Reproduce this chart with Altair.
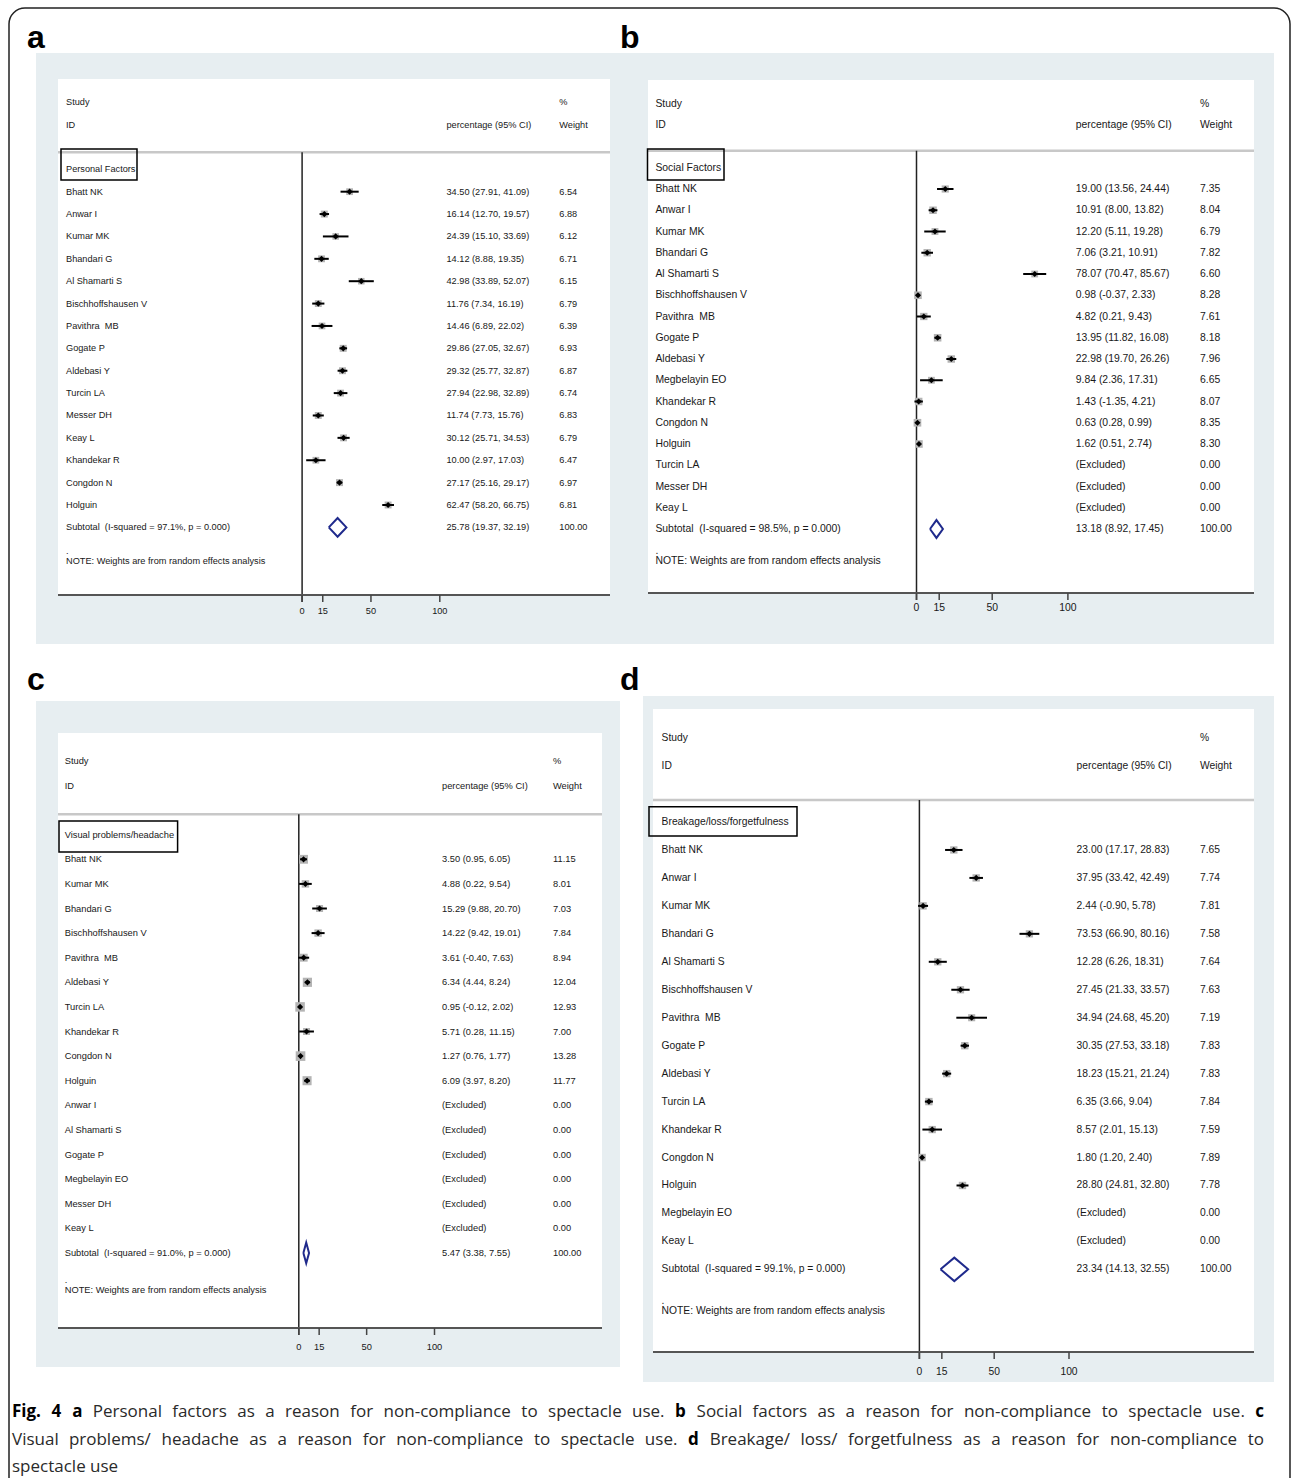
import altair as alt
import pandas as pd

# ---------------------------------------------------------------- data
TICKS = [0, 15, 50, 100]

# (a) Personal factors
a_study = ["Bhatt NK", "Anwar I", "Kumar MK", "Bhandari G", "Al Shamarti S",
           "Bischhoffshausen V", "Pavithra\u00a0 MB", "Gogate P", "Aldebasi Y",
           "Turcin LA", "Messer DH", "Keay L", "Khandekar R", "Congdon N", "Holguin"]
a_est = [34.50, 16.14, 24.39, 14.12, 42.98, 11.76, 14.46, 29.86, 29.32, 27.94,
         11.74, 30.12, 10.00, 27.17, 62.47]
a_lo = [27.91, 12.70, 15.10, 8.88, 33.89, 7.34, 6.89, 27.05, 25.77, 22.98,
        7.73, 25.71, 2.97, 25.16, 58.20]
a_hi = [41.09, 19.57, 33.69, 19.35, 52.07, 16.19, 22.02, 32.67, 32.87, 32.89,
        15.76, 34.53, 17.03, 29.17, 66.75]
a_weight = [6.54, 6.88, 6.12, 6.71, 6.15, 6.79, 6.39, 6.93, 6.87, 6.74,
            6.83, 6.79, 6.47, 6.97, 6.81]
a_excluded = []
a_pooled = [25.78, 19.37, 32.19]
a_isq = "97.1%"

# (b) Social factors
b_study = ["Bhatt NK", "Anwar I", "Kumar MK", "Bhandari G", "Al Shamarti S",
           "Bischhoffshausen V", "Pavithra\u00a0 MB", "Gogate P", "Aldebasi Y",
           "Megbelayin EO", "Khandekar R", "Congdon N", "Holguin"]
b_est = [19.00, 10.91, 12.20, 7.06, 78.07, 0.98, 4.82, 13.95, 22.98, 9.84,
         1.43, 0.63, 1.62]
b_lo = [13.56, 8.00, 5.11, 3.21, 70.47, -0.37, 0.21, 11.82, 19.70, 2.36,
        -1.35, 0.28, 0.51]
b_hi = [24.44, 13.82, 19.28, 10.91, 85.67, 2.33, 9.43, 16.08, 26.26, 17.31,
        4.21, 0.99, 2.74]
b_weight = [7.35, 8.04, 6.79, 7.82, 6.60, 8.28, 7.61, 8.18, 7.96, 6.65,
            8.07, 8.35, 8.30]
b_excluded = ["Turcin LA", "Messer DH", "Keay L"]
b_pooled = [13.18, 8.92, 17.45]
b_isq = "98.5%"

# (c) Visual problems / headache
c_study = ["Bhatt NK", "Kumar MK", "Bhandari G", "Bischhoffshausen V",
           "Pavithra\u00a0 MB", "Aldebasi Y", "Turcin LA", "Khandekar R",
           "Congdon N", "Holguin"]
c_est = [3.50, 4.88, 15.29, 14.22, 3.61, 6.34, 0.95, 5.71, 1.27, 6.09]
c_lo = [0.95, 0.22, 9.88, 9.42, -0.40, 4.44, -0.12, 0.28, 0.76, 3.97]
c_hi = [6.05, 9.54, 20.70, 19.01, 7.63, 8.24, 2.02, 11.15, 1.77, 8.20]
c_weight = [11.15, 8.01, 7.03, 7.84, 8.94, 12.04, 12.93, 7.00, 13.28, 11.77]
c_excluded = ["Anwar I", "Al Shamarti S", "Gogate P", "Megbelayin EO",
              "Messer DH", "Keay L"]
c_pooled = [5.47, 3.38, 7.55]
c_isq = "91.0%"

# (d) Breakage / loss / forgetfulness
d_study = ["Bhatt NK", "Anwar I", "Kumar MK", "Bhandari G", "Al Shamarti S",
           "Bischhoffshausen V", "Pavithra\u00a0 MB", "Gogate P", "Aldebasi Y",
           "Turcin LA", "Khandekar R", "Congdon N", "Holguin"]
d_est = [23.00, 37.95, 2.44, 73.53, 12.28, 27.45, 34.94, 30.35, 18.23, 6.35,
         8.57, 1.80, 28.80]
d_lo = [17.17, 33.42, -0.90, 66.90, 6.26, 21.33, 24.68, 27.53, 15.21, 3.66,
        2.01, 1.20, 24.81]
d_hi = [28.83, 42.49, 5.78, 80.16, 18.31, 33.57, 45.20, 33.18, 21.24, 9.04,
        15.13, 2.40, 32.80]
d_weight = [7.65, 7.74, 7.81, 7.58, 7.64, 7.63, 7.19, 7.83, 7.83, 7.84,
            7.59, 7.89, 7.78]
d_excluded = ["Megbelayin EO", "Keay L"]
d_pooled = [23.34, 14.13, 32.55]
d_isq = "99.1%"

# caption text, split into (text, bold) runs
CAPTION_LINES = [
    [("Fig. 4 a", True),
     ("Personal factors as a reason for non-compliance to spectacle use.", False),
     ("b", True),
     ("Social factors as a reason for non-compliance to spectacle use.", False),
     ("c", True)],
    [("Visual problems/ headache as a reason for non-compliance to spectacle use.", False),
     ("d", True),
     ("Breakage/ loss/ forgetfulness as a reason for non-compliance to", False)],
    [("spectacle use", False)],
]

# ---------------------------------------------------------------- styling
FONT = "Liberation Sans, Arial, sans-serif"
CAP_FONT = "Open Sans, Noto Sans, sans-serif"
TAG_FONT = "Liberation Sans, Arial, sans-serif"
BG = "#e7eef1"
INK = "#181818"
NAVY = "#1f2a8c"
ONE = pd.DataFrame({"k": [0]})

PANELS = [
    dict(tag="a", label="Personal Factors", study=a_study, est=a_est, lo=a_lo,
         hi=a_hi, weight=a_weight, excluded=a_excluded, pooled=a_pooled, isq=a_isq,
         tag_xy=(27, 48), bg=(36, 623, 53, 644), plot=(58, 610, 79, 595),
         xpx=(302.1, 439.8), ypx=(169.3, 22.38), header_y=152.3, tick_y=611,
         cols=(66, 446.5, 559.3), box=(61, 137, 149, 180), size=9.2),
    dict(tag="b", label="Social Factors", study=b_study, est=b_est, lo=b_lo,
         hi=b_hi, weight=b_weight, excluded=b_excluded, pooled=b_pooled, isq=b_isq,
         tag_xy=(620, 48), bg=(623, 1274, 53, 644), plot=(648, 1254, 80, 593),
         xpx=(916.5, 1067.9), ypx=(167.75, 21.25), header_y=150.7, tick_y=608,
         cols=(655.4, 1075.8, 1200), box=(647.5, 724, 149, 180), size=10.4),
    dict(tag="c", label="Visual problems/headache", study=c_study, est=c_est,
         lo=c_lo, hi=c_hi, weight=c_weight, excluded=c_excluded, pooled=c_pooled,
         isq=c_isq, tag_xy=(27, 690), bg=(36, 620, 701, 1367),
         plot=(58, 602, 733, 1328), xpx=(298.8, 434.5), ypx=(834.7, 24.6),
         header_y=814.3, tick_y=1347, cols=(64.7, 442, 553),
         box=(59, 177.6, 821, 852), size=9.3),
    dict(tag="d", label="Breakage/loss/forgetfulness", study=d_study, est=d_est,
         lo=d_lo, hi=d_hi, weight=d_weight, excluded=d_excluded, pooled=d_pooled,
         isq=d_isq, tag_xy=(620, 690), bg=(643, 1274, 696, 1382),
         plot=(653, 1254, 709, 1352), xpx=(919.4, 1069.0), ypx=(822.0, 27.96),
         header_y=800, tick_y=1372, cols=(661.6, 1076.6, 1200),
         box=(649, 797, 806.7, 836), size=10.3),
]


def frame_rect(x, x2, y, y2, **kw):
    return alt.Chart(ONE).mark_rect(**kw).encode(
        x=alt.value(x), x2=alt.value(x2), y=alt.value(y), y2=alt.value(y2))


def frame_rule(x, x2, y, y2, **kw):
    return alt.Chart(ONE).mark_rule(**kw).encode(
        x=alt.value(x), x2=alt.value(x2), y=alt.value(y), y2=alt.value(y2))


def frame_text(x, y, s, **kw):
    return alt.Chart(ONE).mark_text(align="left", baseline="middle", **kw).encode(
        x=alt.value(x), y=alt.value(y), text=alt.value(s))


def ci_text(e, l, h):
    return f"{e:.2f} ({l:.2f}, {h:.2f})"


def forest(p):
    xs = alt.Scale(domain=[0, 100], range=list(p["xpx"]), zero=False, nice=False)
    y0, dy = p["ypx"]
    ys = alt.Scale(domain=[0, 10], range=[y0, y0 + 10 * dy], zero=False, nice=False)
    X = lambda f: alt.X(f, scale=xs, axis=None)
    Y = lambda f: alt.Y(f, scale=ys, axis=None)

    n_inc = len(p["study"])
    n_exc = len(p["excluded"])
    sub_row = n_inc + n_exc + 1
    note_row = sub_row + 1.5

    inc = pd.DataFrame({
        "row": list(range(1, n_inc + 1)), "study": p["study"], "est": p["est"],
        "lo": p["lo"], "hi": p["hi"], "weight": p["weight"]})

    rows = [(-3, "Study", "", "%"), (-2, "ID", "percentage (95% CI)", "Weight"),
            (0, p["label"], "", "")]
    for r, s, e, l, h, w in zip(inc["row"], p["study"], p["est"], p["lo"],
                                p["hi"], p["weight"]):
        rows.append((r, s, ci_text(e, l, h), f"{w:.2f}"))
    for i, s in enumerate(p["excluded"]):
        rows.append((n_inc + 1 + i, s, "(Excluded)", "0.00"))
    pe, pl, ph = p["pooled"]
    rows.append((sub_row, f"Subtotal\u00a0 (I-squared = {p['isq']}, p = 0.000)",
                 ci_text(pe, pl, ph), "100.00"))
    rows.append((note_row, "NOTE: Weights are from random effects analysis", "", ""))
    txt = pd.DataFrame(rows, columns=["row", "c0", "c1", "c2"])

    diamond = pd.DataFrame({
        "x": [pl, pe, ph, pe, pl],
        "row": [sub_row, sub_row - 0.42, sub_row, sub_row + 0.42, sub_row],
        "ord": [0, 1, 2, 3, 4]})
    ticks = pd.DataFrame({"t": TICKS, "lab": [str(t) for t in TICKS]})
    zero = pd.DataFrame({"t": [0]})

    bx0, bx1, by0, by1 = p["bg"]
    px0, px1, py0, py1 = p["plot"]
    fs = p["size"]
    axis_y = py1
    c0, c1, c2 = p["cols"]
    kx0, kx1, ky0, ky1 = p["box"]

    layers = [
        frame_rect(bx0, bx1, by0, by1, color=BG),
        frame_rect(px0, px1, py0, py1, color="white"),
        frame_rule(px0, px1, p["header_y"], p["header_y"], color="#c8c8c8",
                   strokeWidth=2.5),
        alt.Chart(zero).mark_rule(color="#222", strokeWidth=1.5).encode(
            x=X("t:Q"), y=alt.value(p["header_y"]), y2=alt.value(axis_y + 7)),
        frame_rule(px0, px1, axis_y, axis_y, color="#555", strokeWidth=2),
        alt.Chart(ticks).mark_rule(color="#444", strokeWidth=1.5).encode(
            x=X("t:Q"), y=alt.value(axis_y), y2=alt.value(axis_y + 7)),
        alt.Chart(ticks).mark_text(font=FONT, fontSize=fs, color=INK,
                                   baseline="middle").encode(
            x=X("t:Q"), y=alt.value(p["tick_y"]), text="lab:N"),
        alt.Chart(inc).transform_calculate(sz="datum.weight * 7").mark_square(
            color="#b4b4b4", opacity=1).encode(
            x=X("est:Q"), y=Y("row:Q"),
            size=alt.Size("sz:Q", scale=None, legend=None)),
        alt.Chart(inc).mark_rule(color="black", strokeWidth=2).encode(
            x=X("lo:Q"), x2="hi:Q", y=Y("row:Q")),
        alt.Chart(inc).mark_point(shape="diamond", filled=True, color="black",
                                  size=38, opacity=1).encode(
            x=X("est:Q"), y=Y("row:Q")),
        alt.Chart(diamond).mark_line(color=NAVY, strokeWidth=2).encode(
            x=X("x:Q"), y=Y("row:Q"), order="ord:O"),
    ]
    for col, xpos in (("c0", c0), ("c1", c1), ("c2", c2)):
        layers.append(
            alt.Chart(txt).mark_text(align="left", baseline="middle", font=FONT,
                                     fontSize=fs, color=INK).encode(
                x=alt.value(xpos), y=Y("row:Q"), text=f"{col}:N"))
    layers.append(
        alt.Chart(txt[txt["row"] == note_row]).mark_text(
            align="left", baseline="middle", font=FONT, fontSize=fs, color=INK,
            dy=-10).encode(x=alt.value(c0), y=Y("row:Q"), text=alt.value(".")))
    layers.append(frame_rect(kx0, kx1, ky0, ky1, fillOpacity=0, stroke="black",
                             strokeWidth=1.5))
    tx, ty = p["tag_xy"]
    layers.append(
        alt.Chart(ONE).mark_text(align="left", baseline="alphabetic",
                                 font=TAG_FONT, fontSize=32, fontWeight="bold",
                                 color="black").encode(
            x=alt.value(tx), y=alt.value(ty), text=alt.value(p["tag"])))
    return alt.layer(*layers)


# ---------------------------------------------------------------- caption
# approximate Open Sans advance widths (units per em = 2048)
OS_REG = {" ": 532, "-": 659, ".": 545, "/": 752, "4": 1171, "B": 1313,
          "F": 1081, "P": 1200, "S": 1098, "V": 1178, "a": 1139, "b": 1255,
          "c": 975, "d": 1255, "e": 1149, "f": 694, "g": 1122, "h": 1257,
          "i": 518, "k": 1075, "l": 518, "m": 1905, "n": 1257, "o": 1237,
          "p": 1255, "r": 836, "s": 977, "t": 723, "u": 1257, "v": 1026,
          "w": 1593, "y": 1026}
CAP_SIZE = 17
CAP_LEFT, CAP_RIGHT = 12, 1264
CAP_Y = [1412, 1440, 1467]


def word_width(word, bold):
    w = sum(OS_REG.get(ch, 1100) for ch in word) * CAP_SIZE / 2048
    return w * (1.07 if bold else 1.0)


caption_layers = []
for li, runs in enumerate(CAPTION_LINES):
    words = [(w, b) for text, b in runs for w in text.split(" ")]
    widths = [word_width(w, b) for w, b in words]
    justify = li < len(CAPTION_LINES) - 1
    if justify:
        gap = (CAP_RIGHT - CAP_LEFT - sum(widths)) / (len(words) - 1)
    else:
        gap = OS_REG[" "] * CAP_SIZE / 2048
    x = CAP_LEFT
    for (w, b), wd in zip(words, widths):
        caption_layers.append(
            frame_text(x, CAP_Y[li], w, font=CAP_FONT, fontSize=CAP_SIZE,
                       fontWeight="bold" if b else "normal",
                       color="#000" if b else "#2a2a2a"))
        x += wd + gap

border = frame_rect(9, 1290, 8, 1520, fillOpacity=0, stroke="#222",
                    strokeWidth=1.5, cornerRadius=16)

chart = alt.layer(
    border, *[forest(p) for p in PANELS], *caption_layers
).resolve_scale(
    x="independent", y="independent"
).properties(
    width=1292, height=1478, padding=0,
    autosize=alt.AutoSizeParams(type="none"), background="white"
).configure_view(stroke=None)

chart.save("out.html", embed_options={"renderer": "svg", "actions": False})
